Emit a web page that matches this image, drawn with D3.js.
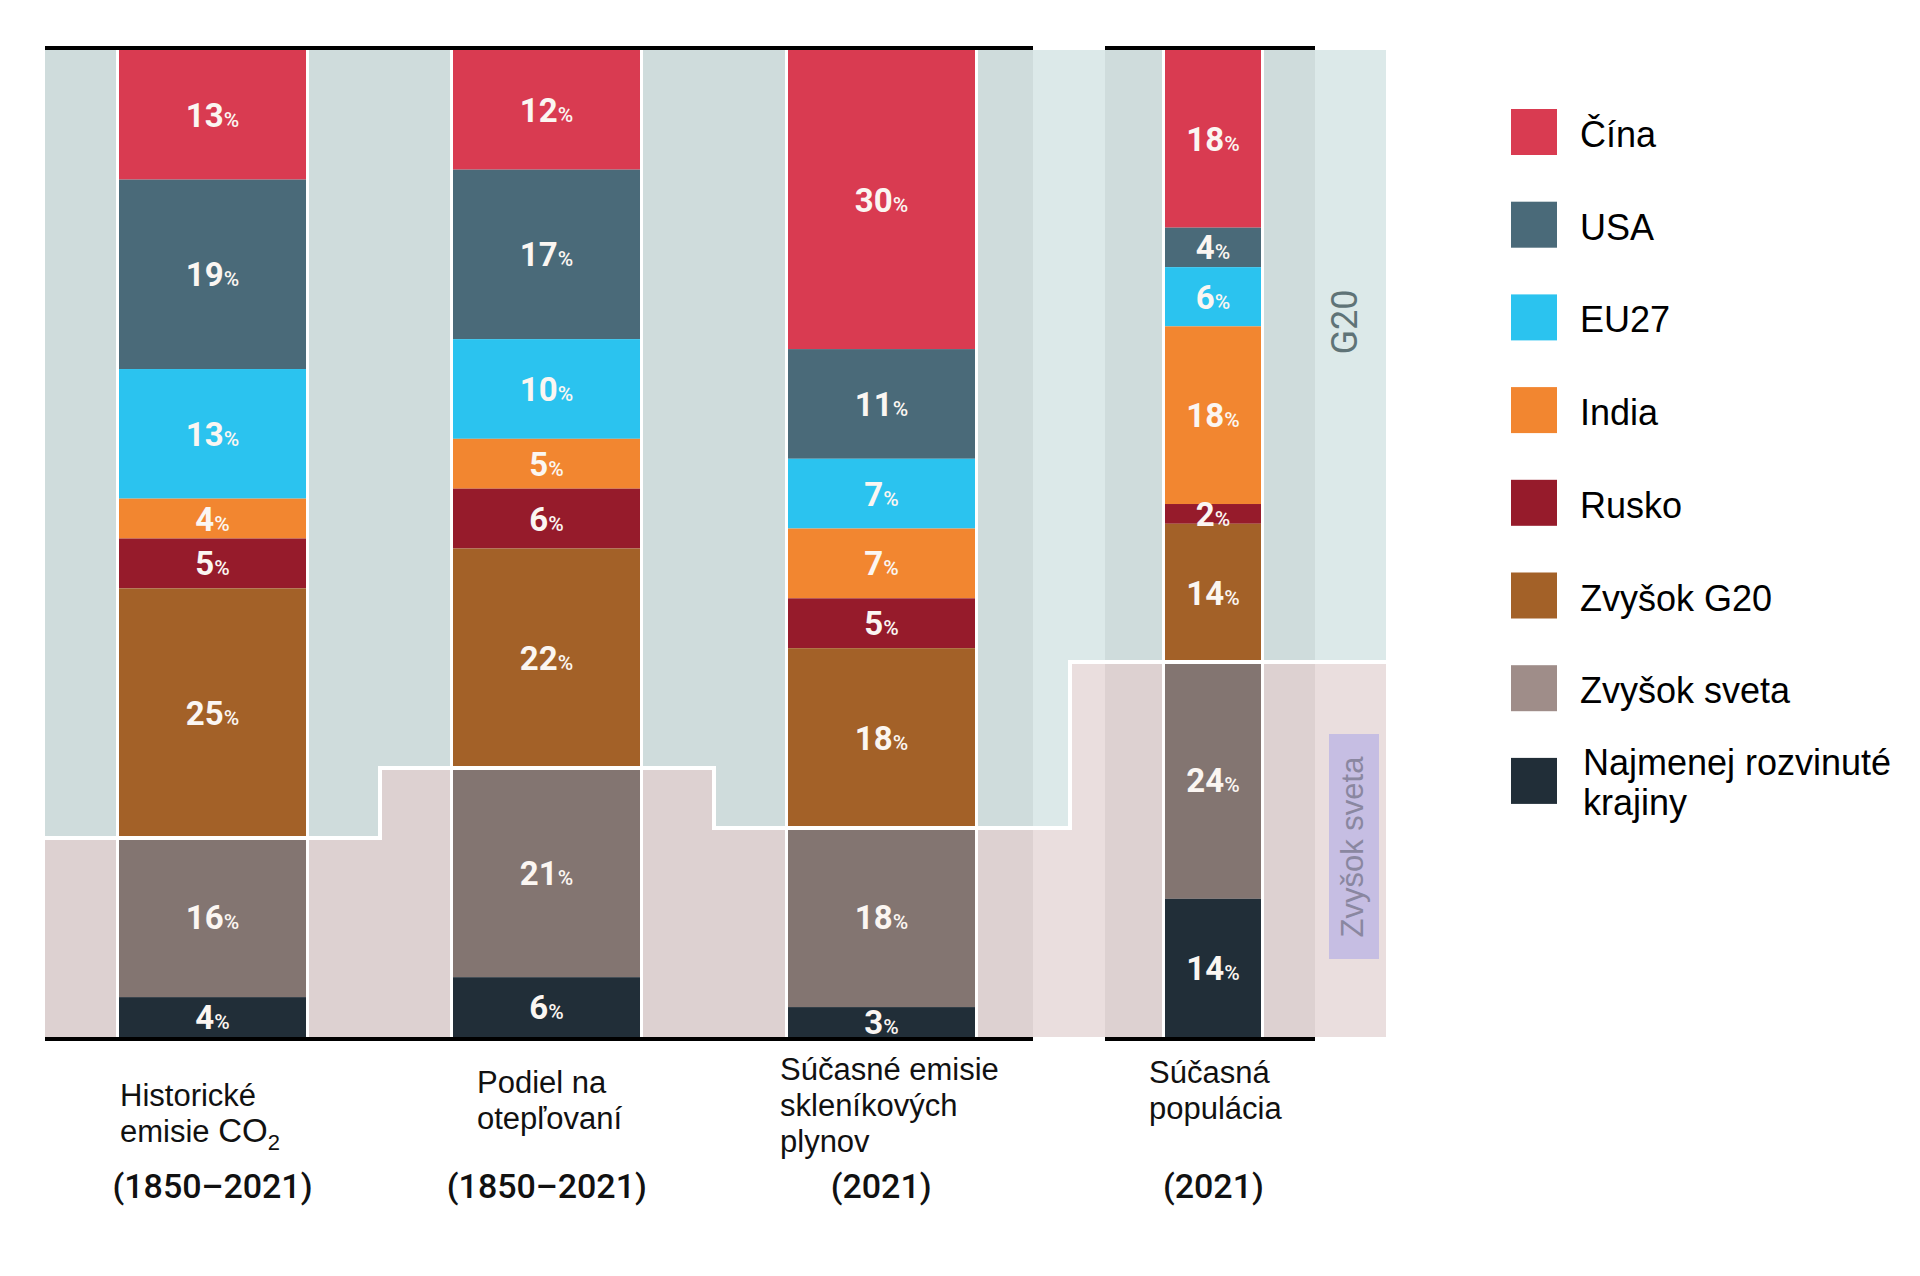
<!DOCTYPE html>
<html>
<head>
<meta charset="utf-8">
<script src="https://cdn.jsdelivr.net/npm/d3@7"></script>
<style>
  html, body { margin: 0; padding: 0; background: #fff; }
  svg { display: block; }
</style>
</head>
<body>
<div id="chart"></div>
<script>
// data (percent shares)
var categories = ["Čína", "USA", "EU27", "India", "Rusko", "Zvyšok G20", "Zvyšok sveta", "Najmenej rozvinuté krajiny"];
var g20Count = 6; // first six categories belong to G20

var columnIds = ["hist", "warming", "ghg", "pop"];
var historicalCO2 = [13, 19, 13, 4, 5, 25, 16, 4];
var warmingShare = [12, 17, 10, 5, 6, 22, 21, 6];
var currentGHG = [30, 11, 7, 7, 5, 18, 18, 3];
var population = [18, 4, 6, 18, 2, 14, 24, 14];

var columnTitles = [
    ["Historické", "emisie CO₂"],
    ["Podiel na", "otepľovaní"],
    ["Súčasné emisie", "skleníkových", "plynov"],
    ["Súčasná", "populácia"]
];
var columnYears = ["(1850–2021)", "(1850–2021)", "(2021)", "(2021)"];

var columns = [historicalCO2, warmingShare, currentGHG, population];

// styles
var colors = ["#d93b51", "#4a6a79", "#2bc3ef", "#f28630", "#961b2b", "#a36128", "#837571", "#212e38"];
var legendColors = colors.slice();
legendColors[6] = "#9f8d89";

var W = 1920, H = 1276;
var yTop = 50, yBottom = 1037;

var svg = d3.select("#chart")
    .append("svg")
    .attr("width", W)
    .attr("height", H);

var x = d3.scaleBand()
    .domain(columnIds)
    .range([45.4, 1382.6])
    .padding(0);

var barW = [187, 187, 187, 96];
var barShift = [0, 0, 0, -2];
function center(i) { return x(columnIds[i]) + x.bandwidth() / 2 + barShift[i]; }
function barLeft(i) { return Math.round(center(i) - barW[i] / 2); }
function barRight(i) { return barLeft(i) + barW[i]; }

// one y scale per column, bars fill the whole height
var yScales = columns.map(function(vals) {
    return d3.scaleLinear().domain([0, d3.sum(vals)]).range([yTop, yBottom]);
});

// stacked segments
var stacks = columns.map(function(vals, ci) {
    var acc = 0;
    return vals.map(function(v, k) {
        var s = { col: ci, cat: k, value: v, y0: acc, y1: acc + v };
        acc += v;
        return s;
    });
});

// where G20 ends in each column
var splits = columns.map(function(vals, ci) {
    return Math.round(yScales[ci](d3.sum(vals.slice(0, g20Count))));
});

// x ranges of the background bands (steps halfway between bars)
var xLeft = Math.round(x.range()[0]), xRight = 1386;
var bandEdges = [xLeft];
for (var i = 0; i < columns.length - 1; i++) {
    bandEdges.push(Math.round((barRight(i) + barLeft(i + 1)) / 2));
}
bandEdges.push(xRight);

var stepPts = [];
columns.forEach(function(vals, ci) {
    stepPts.push([bandEdges[ci], splits[ci]]);
    stepPts.push([bandEdges[ci + 1], splits[ci]]);
});

var bg = svg.append("g");

// rest of world (pink) underneath, G20 (blue) on top
bg.append("rect")
    .attr("x", xLeft)
    .attr("y", yTop)
    .attr("width", xRight - xLeft)
    .attr("height", yBottom - yTop)
    .attr("fill", "#eadede");

bg.append("path")
    .attr("d", d3.line()([[xLeft, yTop]].concat(stepPts, [[xRight, yTop]])) + "Z")
    .attr("fill", "#dce9e9");

// darker panels
var panels = [
    [xLeft, barRight(2) + 58],
    [Math.round(center(3)) - 108, Math.round(center(3)) + 102]
];
panels.forEach(function(p) {
    bg.append("rect")
        .attr("x", p[0])
        .attr("y", yTop)
        .attr("width", p[1] - p[0])
        .attr("height", yBottom - yTop)
        .attr("fill", "rgba(0,0,0,0.055)");
});

// white gaps around bars
svg.append("g").selectAll("rect")
    .data(columns)
    .enter()
    .append("rect")
    .attr("x", function(d, i) { return barLeft(i) - 3; })
    .attr("y", yTop)
    .attr("width", function(d, i) { return barW[i] + 6; })
    .attr("height", yBottom - yTop)
    .attr("fill", "#fff");

var segs = svg.append("g").selectAll("g.col")
    .data(stacks)
    .enter()
    .append("g")
    .attr("class", "col");

segs.selectAll("rect")
    .data(function(d) { return d; })
    .enter()
    .append("rect")
    .attr("x", function(d) { return barLeft(d.col); })
    .attr("y", function(d) { return yScales[d.col](d.y0); })
    .attr("width", function(d) { return barW[d.col]; })
    .attr("height", function(d) { return yScales[d.col](d.y1) - yScales[d.col](d.y0); })
    .attr("fill", function(d) { return colors[d.cat]; });

// white step line between G20 and the rest of the world
svg.append("path")
    .attr("d", d3.line()(stepPts))
    .attr("fill", "none")
    .attr("stroke", "#fff")
    .attr("stroke-width", 4);

// percent labels
var labels = segs.selectAll("text")
    .data(function(d) { return d; })
    .enter()
    .append("text")
    .attr("x", function(d) { return (barLeft(d.col) + barRight(d.col)) / 2; })
    .attr("y", function(d) {
        return (yScales[d.col](d.y0) + yScales[d.col](d.y1)) / 2 + 12;
    })
    .attr("text-anchor", "middle")
    .attr("fill", "#fbf6f2")
    .style("font-family", "Roboto, sans-serif");

labels.append("tspan")
    .text(function(d) { return d.value; })
    .style("font-size", "33px")
    .style("font-weight", "bold");
labels.append("tspan")
    .text("%")
    .style("font-size", "21px")
    .style("font-weight", "500");

// black top and bottom rules
var rules = svg.append("g");
panels.forEach(function(p) {
    [yTop - 2, yBottom + 2].forEach(function(yy) {
        rules.append("line")
            .attr("x1", p[0]).attr("x2", p[1])
            .attr("y1", yy).attr("y2", yy)
            .attr("stroke", "#000")
            .attr("stroke-width", 4);
    });
});

// rotated group labels
svg.append("text")
    .attr("transform", "translate(1357,322) rotate(-90)")
    .attr("text-anchor", "middle")
    .attr("fill", "#5f7377")
    .style("font-family", "Roboto, sans-serif")
    .style("font-size", "36px")
    .text("G20");

svg.append("rect")
    .attr("x", 1329)
    .attr("y", 734)
    .attr("width", 50)
    .attr("height", 225)
    .attr("fill", "#c6bee3");

svg.append("text")
    .attr("transform", "translate(1363,847) rotate(-90)")
    .attr("text-anchor", "middle")
    .attr("fill", "#8a87a0")
    .style("font-family", "'Liberation Sans', Arial, sans-serif")
    .style("font-size", "31px")
    .text("Zvyšok sveta");

// column titles
var titleX = [120, 477, 780, 1149];
var titleY = [1106, 1093, 1080, 1083];
columnTitles.forEach(function(lines, ci) {
    var t = svg.append("text")
        .attr("x", titleX[ci])
        .attr("y", titleY[ci])
        .attr("fill", "#111")
        .style("font-family", "'Liberation Sans', Arial, sans-serif")
        .style("font-size", "31px");
    lines.forEach(function(line, li) {
        var sp = t.append("tspan")
            .attr("x", titleX[ci])
            .attr("y", titleY[ci] + li * 36);
        if (line.indexOf("CO₂") >= 0) {
            sp.text(line.replace("CO₂", ""));
            t.append("tspan").text("CO").style("font-size", "33px");
            t.append("tspan").text("2").attr("dy", 8).style("font-size", "22px");
        } else {
            sp.text(line);
        }
    });
    svg.append("text")
        .attr("x", center(ci))
        .attr("y", 1198)
        .attr("text-anchor", "middle")
        .attr("fill", "#111")
        .style("font-family", "Roboto, sans-serif")
        .style("font-size", "34px")
        .style("font-weight", "500")
        .text(columnYears[ci]);
});

// legend
var legend = svg.append("g").selectAll("g")
    .data(categories)
    .enter()
    .append("g")
    .attr("transform", function(d, i) { return "translate(1511," + (109 + i * 92.7) + ")"; });

legend.append("rect")
    .attr("width", 46)
    .attr("height", 46)
    .attr("fill", function(d, i) { return legendColors[i]; });

legend.each(function(d, i) {
    var g = d3.select(this);
    var t = g.append("text")
        .attr("x", 69)
        .attr("fill", "#000")
        .style("font-family", "'Liberation Sans', Arial, sans-serif")
        .style("font-size", "36px");
    if (i === categories.length - 1) {
        t.append("tspan").attr("x", 72).attr("y", 17).text("Najmenej rozvinuté");
        t.append("tspan").attr("x", 72).attr("y", 57).text("krajiny");
    } else {
        t.attr("y", 38).text(d);
    }
});
</script>
</body>
</html>
